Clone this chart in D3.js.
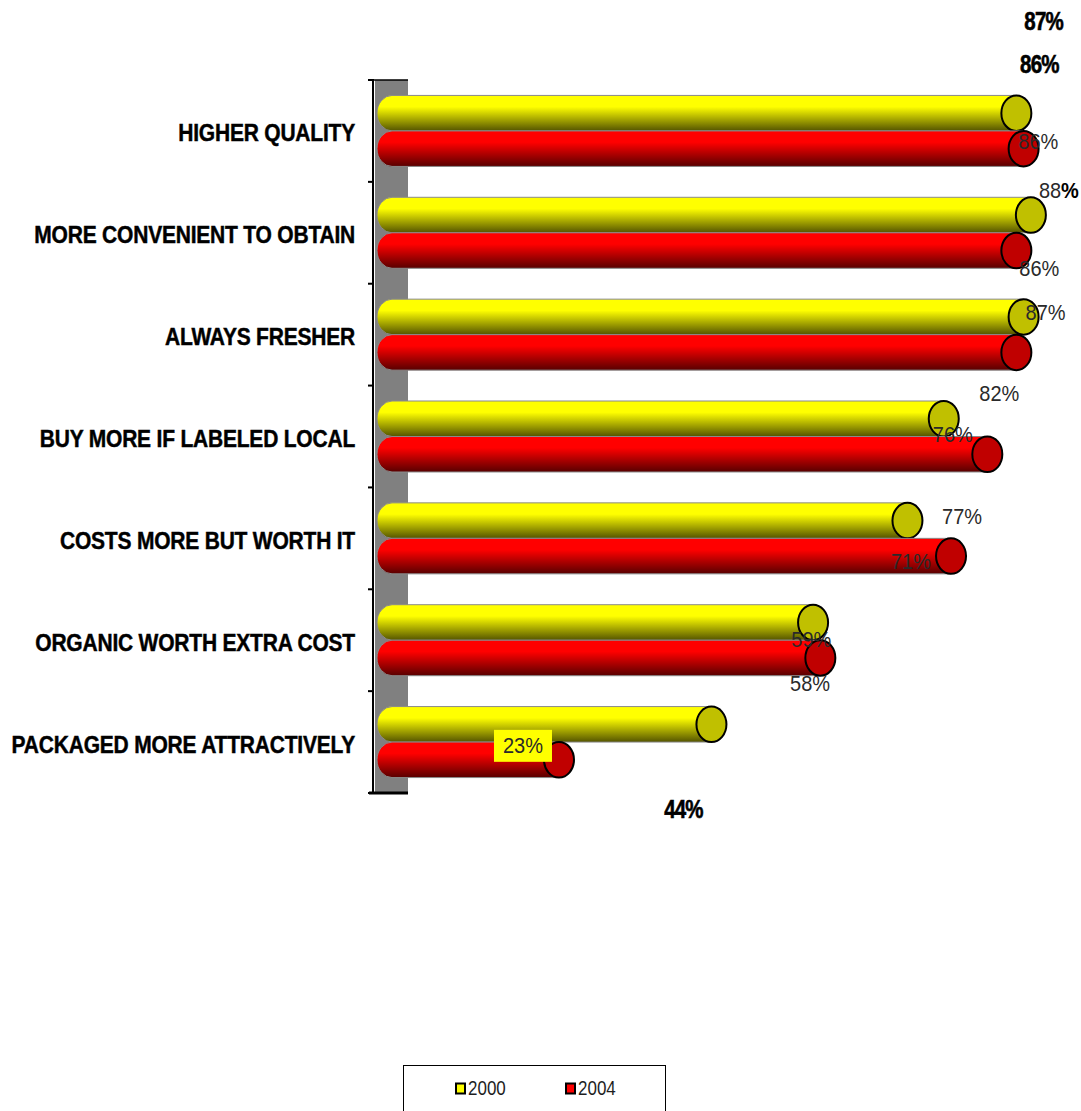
<!DOCTYPE html>
<html>
<head>
<meta charset="utf-8">
<script src="https://cdn.jsdelivr.net/npm/d3@7"></script>
<style>
  html, body { margin: 0; padding: 0; background: #fff; }
  svg { display: block; }
  text { font-family: "Liberation Sans", Arial, sans-serif; }
</style>
</head>
<body>
<svg id="chart" width="1081" height="1111"></svg>
<script>
// Survey responses: share agreeing with each statement about local produce
const categories = [
  "HIGHER QUALITY",
  "MORE CONVENIENT TO OBTAIN",
  "ALWAYS FRESHER",
  "BUY MORE IF LABELED LOCAL",
  "COSTS MORE BUT WORTH IT",
  "ORGANIC WORTH EXTRA COST",
  "PACKAGED MORE ATTRACTIVELY"
];
const seriesNames = ["2000", "2004"];
const values2000 = [86, 88, 87, 76, 71, 58, 44];
const values2004 = [87, 86, 86, 82, 77, 59, 23];

// Where each value label sits, relative to the end cap of its bar
const labelNudge2000 = [[22, 28], [28, -25], [22, -4.5], [9, 16], [3.5, 41], [-3, 61.5], [-28, 84.5]];
const labelNudge2004 = [[20, -128], [23, 18], [23, -288], [12, -61], [11, -40], [-9, -18.5], [-36, -14]];
const labelKind2000 = ["plain", "boldPct", "plain", "plain", "plain", "plain", "bold"];
const labelKind2004 = ["bold", "plain", "bold", "plain", "plain", "plain", "boxed"];

const svg = d3.select("#chart");

const palette = {
  "2000": { top: "#ffff00", bottom: "#545400", cap: "#c0c000", swatch: "#ffff00" },
  "2004": { top: "#ff0000", bottom: "#580000", cap: "#c00000", swatch: "#ff0000" }
};

// Vertical shading that gives the bars their cylindrical look
const defs = svg.append("defs");
seriesNames.forEach(s => {
  const g = defs.append("linearGradient")
    .attr("id", "grad" + s).attr("x1", 0).attr("y1", 0).attr("x2", 0).attr("y2", 1);
  g.append("stop").attr("offset", "0%").attr("stop-color", palette[s].top);
  g.append("stop").attr("offset", "32%").attr("stop-color", palette[s].top);
  g.append("stop").attr("offset", "100%").attr("stop-color", palette[s].bottom);
});

const plotTop = 80, plotBottom = 793;
const y = d3.scaleBand().domain(categories).range([plotTop, plotBottom])
  .paddingInner(0.303).paddingOuter(0.1515);
const ySub = d3.scaleBand().domain(seriesNames).range([0, y.bandwidth()]);
const x = d3.scaleLinear().domain([0, 100]).range([392, 1118]);

const capRx = 15;

// Back wall on the category axis
svg.append("rect").attr("x", 375).attr("y", plotTop)
  .attr("width", 33).attr("height", plotBottom - plotTop).attr("fill", "#808080");
svg.append("line").attr("x1", 373).attr("x2", 373).attr("y1", plotTop).attr("y2", plotBottom + 1)
  .attr("stroke", "#000").attr("stroke-width", 2);
svg.append("line").attr("x1", 369).attr("x2", 408).attr("y1", plotTop).attr("y2", plotTop)
  .attr("stroke", "#000").attr("stroke-width", 1.5);
svg.append("line").attr("x1", 369).attr("x2", 408).attr("y1", plotBottom).attr("y2", plotBottom)
  .attr("stroke", "#000").attr("stroke-width", 3);
const step = y.step();
d3.range(categories.length + 1).forEach(i => {
  const ty = plotTop + i * step;
  svg.append("line").attr("x1", 368).attr("x2", 374).attr("y1", ty).attr("y2", ty)
    .attr("stroke", "#000").attr("stroke-width", 2);
});

// Category labels
function addText(parent, tx, ty, str, sy) {
  return parent.append("text")
    .attr("transform", `translate(${tx},${ty}) scale(1,${sy})`)
    .text(str);
}
categories.forEach(c => {
  addText(svg, 355, y(c) - y.paddingOuter() * step + step / 2 + 10.5, c, 1.12)
    .attr("text-anchor", "end")
    .attr("font-size", 21)
    .attr("font-weight", "bold")
    .attr("letter-spacing", -0.2)
    .attr("fill", "#000")
    .attr("stroke", "#000").attr("stroke-width", 0.4);
});

// Cylinder bars
const seriesData = { "2000": values2000, "2004": values2004 };
const barsLayer = svg.append("g");
seriesNames.forEach(s => {
  seriesData[s].forEach((v, i) => {
    const c = categories[i];
    const top = y(c) + ySub(s);
    const h = ySub.bandwidth();
    const ry = h / 2;
    const x0 = x(0), x1 = x(v);
    const g = barsLayer.append("g");
    g.append("path")
      .attr("d", `M${x1},${top} L${x0},${top} A${capRx},${ry} 0 0 0 ${x0},${top + h} L${x1},${top + h} Z`)
      .attr("fill", `url(#grad${s})`)
      .attr("stroke", "#8a8a8a").attr("stroke-width", 1);
    g.append("ellipse")
      .attr("cx", x1).attr("cy", top + ry)
      .attr("rx", capRx).attr("ry", ry)
      .attr("fill", palette[s].cap)
      .attr("stroke", "#000").attr("stroke-width", 2);
  });
});

// Value labels
const labelsLayer = svg.append("g");
function drawLabel(s, v, i, nudge, kind) {
  const c = categories[i];
  const cx = x(v) + nudge[0];
  const cy = y(c) + ySub(s) + ySub.bandwidth() / 2 + nudge[1];
  const txt = v + "%";
  if (kind === "bold") {
    addText(labelsLayer, cx, cy + 9, txt, 1.25)
      .attr("text-anchor", "middle").attr("font-size", 20.5)
      .attr("font-weight", "bold").attr("letter-spacing", -0.8).attr("fill", "#000")
      .attr("stroke", "#000").attr("stroke-width", 0.5);
    return;
  }
  if (kind === "boxed") {
    labelsLayer.append("rect").attr("x", cx - 29).attr("y", cy - 16)
      .attr("width", 58).attr("height", 32).attr("fill", "#ffff00");
  }
  const t = addText(labelsLayer, cx, cy + 7.5, "", 1.08)
    .attr("text-anchor", "middle").attr("font-size", 20).attr("fill", "#2a2a2a");
  if (kind === "boldPct") {
    t.append("tspan").text(String(v));
    t.append("tspan").attr("font-weight", "bold").attr("fill", "#000").text("%");
  } else {
    t.text(txt);
  }
}
values2000.forEach((v, i) => drawLabel("2000", v, i, labelNudge2000[i], labelKind2000[i]));
values2004.forEach((v, i) => drawLabel("2004", v, i, labelNudge2004[i], labelKind2004[i]));

// Legend
const legend = svg.append("g");
legend.append("rect").attr("x", 403.5).attr("y", 1065.5).attr("width", 262).attr("height", 60)
  .attr("fill", "#fff").attr("stroke", "#000").attr("stroke-width", 1);
const legendX = d3.scalePoint().domain(seriesNames).range([456, 566]);
seriesNames.forEach(s => {
  const lx = legendX(s);
  legend.append("rect").attr("x", lx).attr("y", 1083.5).attr("width", 9).attr("height", 10)
    .attr("fill", palette[s].swatch).attr("stroke", "#000").attr("stroke-width", 2);
  addText(legend, lx + 12, 1095, s, 1.2)
    .attr("font-size", 17).attr("fill", "#1e1e1e");
});
</script>
</body>
</html>
